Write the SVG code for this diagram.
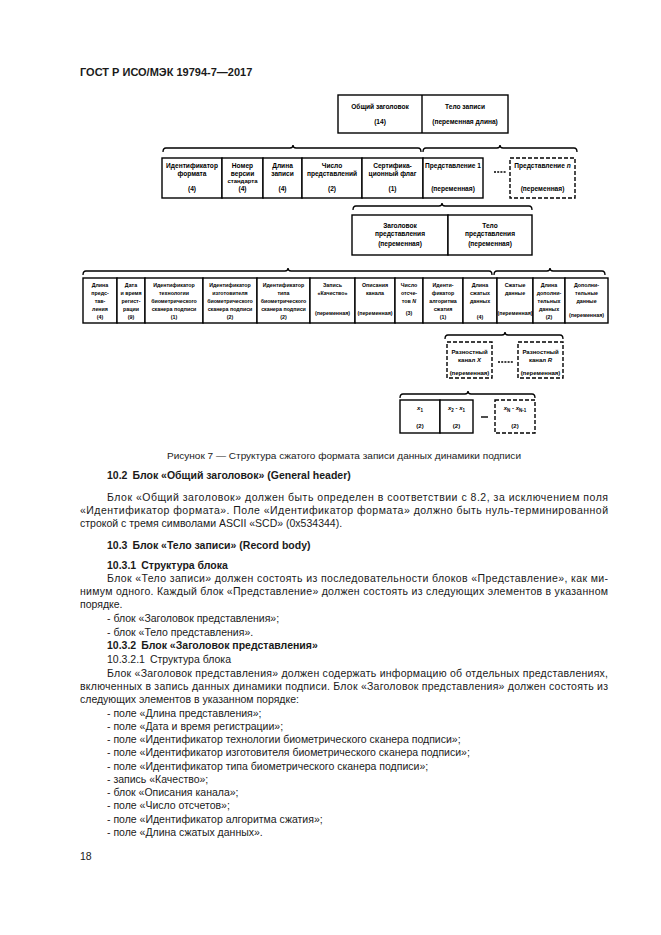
<svg xmlns="http://www.w3.org/2000/svg" width="661" height="935" viewBox="0 0 661 935">
<style>
.b{fill:#fff;stroke:#000;stroke-width:1.4}
.d{fill:#fff;stroke:#000;stroke-width:1.4;stroke-dasharray:4 2}
.ln{fill:none;stroke:#000;stroke-width:1.4}
.br{fill:none;stroke:#000;stroke-width:1.3}
.sep{fill:none;stroke:#000;stroke-width:1.3;stroke-dasharray:2 1.2}
.t{font-family:"Liberation Sans",Arial,sans-serif;font-size:6.6px;font-weight:bold;text-anchor:middle;fill:#000}
.s{font-family:"Liberation Sans",Arial,sans-serif;font-size:6px;font-weight:bold;text-anchor:middle;fill:#000}
.f{font-family:"Liberation Sans",Arial,sans-serif;font-size:5.3px;font-weight:bold;text-anchor:middle;fill:#000}
.p{font-family:"Liberation Sans",Arial,sans-serif;font-size:10.5px;fill:#1a1a1a}
.h{font-family:"Liberation Sans",Arial,sans-serif;font-size:10.5px;font-weight:bold;fill:#1a1a1a}
.i{font-style:italic}
</style>
<rect width="661" height="935" fill="#fff"/>
<text class="h" x="80" y="76" style="font-size:11px">ГОСТ Р ИСО/МЭК 19794-7—2017</text>

<g id="connectors">
<path class="br" d="M163 152 Q163 148 166 148 L290 148 Q293 148 293 145 Q293 148 296 148 L418 148 Q421 148 421 152"/>
<path class="br" d="M423 152 Q423 148 426 148 L497 148 Q500 148 500 145 Q500 148 503 148 L574 148 Q577 148 577 152"/>
<path class="br" d="M353 210 Q353 206 356 206 L439 206 Q442 206 442 203 Q442 206 445 206 L529 206 Q532 206 532 210"/>
<path class="br" d="M83 275 Q83 271 86 271 L285 271 Q288 271 288 268 Q288 271 291 271 L489 271 Q492 271 492 275"/>
<path class="br" d="M494 275 Q494 271 497 271 L547 271 Q550 271 550 268 Q550 271 553 271 L602 271 Q605 271 605 275"/>
<path class="br" d="M445 339 Q445 335 448 335 L502 335 Q505 335 505 332 Q505 335 508 335 L560 335 Q563 335 563 339"/>
<path class="br" d="M400 398 Q400 394 403 394 L465 394 Q468 394 468 391 Q468 394 471 394 L532 394 Q535 394 535 398"/>
<line class="sep" x1="494" y1="172" x2="506" y2="172"/>
<line class="sep" x1="498" y1="362" x2="513" y2="362"/>
<line class="ln" x1="481" y1="417" x2="488" y2="417"/>
</g>

<g id="record">
<rect class="b" x="338" y="95" width="170" height="38"/>
<line class="ln" x1="422" y1="95" x2="422" y2="133"/>
<text class="t" x="380" y="109">Общий заголовок</text>
<text class="t" x="380" y="124">(14)</text>
<text class="t" x="465" y="109">Тело записи</text>
<text class="t" x="465" y="124">(переменная длина)</text>
</g>

<g id="format-id"><rect class="b" x="162" y="158" width="60" height="40"/>
<text class="t" x="192" y="168">Идентификатор</text><text class="t" x="192" y="175.5">формата</text><text class="t" x="192" y="191">(4)</text></g>
<g id="version"><rect class="b" x="222" y="158" width="41" height="40"/>
<text class="t" x="242.5" y="168">Номер</text><text class="t" x="242.5" y="175.5">версии</text><text class="s" x="242.5" y="183">стандарта</text><text class="t" x="242.5" y="191">(4)</text></g>
<g id="record-length"><rect class="b" x="263" y="158" width="39" height="40"/>
<text class="t" x="282.5" y="168">Длина</text><text class="t" x="282.5" y="175.5">записи</text><text class="t" x="282.5" y="191">(4)</text></g>
<g id="num-repr"><rect class="b" x="302" y="158" width="60" height="40"/>
<text class="t" x="332" y="168">Число</text><text class="t" x="332" y="175.5">представлений</text><text class="t" x="332" y="191">(2)</text></g>
<g id="cert-flag"><rect class="b" x="362" y="158" width="61" height="40"/>
<text class="t" x="392.5" y="168">Сертифика-</text><text class="t" x="392.5" y="175.5">ционный флаг</text><text class="t" x="392.5" y="191">(1)</text></g>
<g id="repr-1"><rect class="b" x="423" y="158" width="60" height="40"/>
<text class="t" x="453" y="168">Представление 1</text><text class="t" x="453" y="191">(переменная)</text></g>
<g id="repr-n"><rect class="d" x="510" y="158" width="65" height="40"/>
<text class="t" x="542.5" y="168">Представление <tspan class="i">n</tspan></text><text class="t" x="542.5" y="191">(переменная)</text></g>

<g id="repr-header"><rect class="b" x="352" y="215" width="96" height="40"/>
<text class="t" x="400" y="227.5">Заголовок</text><text class="t" x="400" y="235.5">представления</text><text class="t" x="400" y="245.5">(переменная)</text></g>
<g id="repr-body"><rect class="b" x="448" y="215" width="84" height="40"/>
<text class="t" x="490" y="227.5">Тело</text><text class="t" x="490" y="235.5">представления</text><text class="t" x="490" y="245.5">(переменная)</text></g>

<g id="f-repr-length"><rect class="b" x="83" y="278" width="34" height="45"/>
<text class="f" x="100" y="287">Длина</text><text class="f" x="100" y="295">предс-</text><text class="f" x="100" y="303">тав-</text><text class="f" x="100" y="311">ления</text><text class="f" x="100" y="319">(4)</text></g>
<g id="f-date"><rect class="b" x="117" y="278" width="28" height="45"/>
<text class="f" x="131" y="287">Дата</text><text class="f" x="131" y="295">и время</text><text class="f" x="131" y="303">регист-</text><text class="f" x="131" y="311">рации</text><text class="f" x="131" y="319">(9)</text></g>
<g id="f-tech"><rect class="b" x="145" y="278" width="58" height="45"/>
<text class="f" x="174" y="287">Идентификатор</text><text class="f" x="174" y="295">технологии</text><text class="f" x="174" y="303">биометрического</text><text class="f" x="174" y="311">сканера подписи</text><text class="f" x="174" y="319">(1)</text></g>
<g id="f-vendor"><rect class="b" x="203" y="278" width="54" height="45"/>
<text class="f" x="230" y="287">Идентификатор</text><text class="f" x="230" y="295">изготовителя</text><text class="f" x="230" y="303">биометрического</text><text class="f" x="230" y="311">сканера подписи</text><text class="f" x="230" y="319">(2)</text></g>
<g id="f-type"><rect class="b" x="257" y="278" width="53" height="45"/>
<text class="f" x="283.5" y="287">Идентификатор</text><text class="f" x="283.5" y="295">типа</text><text class="f" x="283.5" y="303">биометрического</text><text class="f" x="283.5" y="311">сканера подписи</text><text class="f" x="283.5" y="319">(2)</text></g>
<g id="f-quality"><rect class="b" x="310" y="278" width="45" height="45"/>
<text class="f" x="332.5" y="287">Запись</text><text class="f" x="332.5" y="295">«Качество»</text><text class="f" x="332.5" y="315">(переменная)</text></g>
<g id="f-channels"><rect class="b" x="355" y="278" width="40" height="45"/>
<text class="f" x="375" y="287">Описания</text><text class="f" x="375" y="295">канала</text><text class="f" x="375" y="315">(переменная)</text></g>
<g id="f-samples"><rect class="b" x="395" y="278" width="28" height="45"/>
<text class="f" x="409" y="287">Число</text><text class="f" x="409" y="295">отсче-</text><text class="f" x="409" y="303">тов <tspan class="i">N</tspan></text><text class="f" x="409" y="315">(3)</text></g>
<g id="f-algo"><rect class="b" x="423" y="278" width="40" height="45"/>
<text class="f" x="443" y="287">Иденти-</text><text class="f" x="443" y="295">фикатор</text><text class="f" x="443" y="303">алгоритма</text><text class="f" x="443" y="311">сжатия</text><text class="f" x="443" y="319">(1)</text></g>
<g id="f-comp-length"><rect class="b" x="463" y="278" width="34" height="45"/>
<text class="f" x="480" y="287">Длина</text><text class="f" x="480" y="295">сжатых</text><text class="f" x="480" y="303">данных</text><text class="f" x="480" y="319">(4)</text></g>
<g id="f-comp-data"><rect class="b" x="497" y="278" width="36" height="45"/>
<text class="f" x="515" y="287">Сжатые</text><text class="f" x="515" y="295">данные</text><text class="f" x="515" y="315">(переменная)</text></g>
<g id="f-ext-length"><rect class="b" x="533" y="278" width="32" height="45"/>
<text class="f" x="549" y="287">Длина</text><text class="f" x="549" y="295">дополни-</text><text class="f" x="549" y="303">тельных</text><text class="f" x="549" y="311">данных</text><text class="f" x="549" y="319">(2)</text></g>
<g id="f-ext-data"><rect class="b" x="565" y="278" width="43" height="45"/>
<text class="f" x="586.5" y="287">Дополни-</text><text class="f" x="586.5" y="295">тельные</text><text class="f" x="586.5" y="303">данные</text><text class="f" x="586.5" y="317">(переменная)</text></g>

<g id="diff-x"><rect class="d" x="447" y="342" width="45" height="36"/>
<text class="s" x="469.5" y="354">Разностный</text><text class="s" x="469.5" y="362">канал <tspan class="i">X</tspan></text><text class="s" x="469.5" y="375">(переменная)</text></g>
<g id="diff-r"><rect class="d" x="518" y="342" width="45" height="36"/>
<text class="s" x="540.5" y="354">Разностный</text><text class="s" x="540.5" y="362">канал <tspan class="i">R</tspan></text><text class="s" x="540.5" y="375">(переменная)</text></g>

<g id="x1"><rect class="b" x="400" y="400" width="40" height="33"/>
<text class="s" x="420" y="410"><tspan class="i">x</tspan><tspan font-size="4.5" dy="1.5">1</tspan></text><text class="s" x="420" y="428">(2)</text></g>
<g id="x2"><rect class="b" x="440" y="400" width="33" height="33"/>
<text class="s" x="456.5" y="410"><tspan class="i">x</tspan><tspan font-size="4.5" dy="1.5">2</tspan><tspan dy="-1.5"> - </tspan><tspan class="i">x</tspan><tspan font-size="4.5" dy="1.5">1</tspan></text><text class="s" x="456.5" y="428">(2)</text></g>
<g id="xn"><rect class="d" x="495" y="400" width="40" height="33"/>
<text class="s" x="515" y="410"><tspan class="i">x</tspan><tspan font-size="4.5" dy="1.5">N</tspan><tspan dy="-1.5"> - </tspan><tspan class="i">x</tspan><tspan font-size="4.5" dy="1.5">N-1</tspan></text><text class="s" x="515" y="428">(2)</text></g>

<text class="p" x="167" y="459" style="font-size:9.5px" textLength="354" lengthAdjust="spacingAndGlyphs">Рисунок 7 — Структура сжатого формата записи данных динамики подписи</text>

<text class="h" x="107" y="479">10.2<tspan dx="5">Блок «Общий заголовок» (General header)</tspan></text>
<text class="p" x="107" y="501" textLength="501" lengthAdjust="spacing">Блок «Общий заголовок» должен быть определен в соответствии с 8.2, за исключением поля</text>
<text class="p" x="80" y="514" textLength="528" lengthAdjust="spacing">«Идентификатор формата». Поле «Идентификатор формата» должно быть нуль-терминированной</text>
<text class="p" x="80" y="527">строкой с тремя символами ASCII «SCD» (0x534344).</text>
<text class="h" x="107" y="549">10.3<tspan dx="5">Блок «Тело записи» (Record body)</tspan></text>
<text class="h" x="107" y="569">10.3.1<tspan dx="5">Структура блока</tspan></text>
<text class="p" x="107" y="582" textLength="501" lengthAdjust="spacing">Блок «Тело записи» должен состоять из последовательности блоков «Представление», как ми-</text>
<text class="p" x="80" y="595" textLength="528" lengthAdjust="spacing">нимум одного. Каждый блок «Представление» должен состоять из следующих элементов в указанном</text>
<text class="p" x="80" y="608">порядке.</text>
<text class="p" x="107" y="622">- блок «Заголовок представления»;</text>
<text class="p" x="107" y="636">- блок «Тело представления».</text>
<text class="h" x="107" y="649">10.3.2<tspan dx="5">Блок «Заголовок представления»</tspan></text>
<text class="p" x="107" y="663">10.3.2.1<tspan dx="5">Структура блока</tspan></text>
<text class="p" x="107" y="677" textLength="501" lengthAdjust="spacing">Блок «Заголовок представления» должен содержать информацию об отдельных представлениях,</text>
<text class="p" x="80" y="690" textLength="528" lengthAdjust="spacing">включенных в запись данных динамики подписи. Блок «Заголовок представления» должен состоять из</text>
<text class="p" x="80" y="703">следующих элементов в указанном порядке:</text>
<text class="p" x="107" y="717">- поле «Длина представления»;</text>
<text class="p" x="107" y="730">- поле «Дата и время регистрации»;</text>
<text class="p" x="107" y="743">- поле «Идентификатор технологии биометрического сканера подписи»;</text>
<text class="p" x="107" y="756">- поле «Идентификатор изготовителя биометрического сканера подписи»;</text>
<text class="p" x="107" y="770">- поле «Идентификатор типа биометрического сканера подписи»;</text>
<text class="p" x="107" y="783">- запись «Качество»;</text>
<text class="p" x="107" y="796">- блок «Описания канала»;</text>
<text class="p" x="107" y="809">- поле «Число отсчетов»;</text>
<text class="p" x="107" y="823">- поле «Идентификатор алгоритма сжатия»;</text>
<text class="p" x="107" y="836">- поле «Длина сжатых данных».</text>
<text class="p" x="80" y="860">18</text>
</svg>
